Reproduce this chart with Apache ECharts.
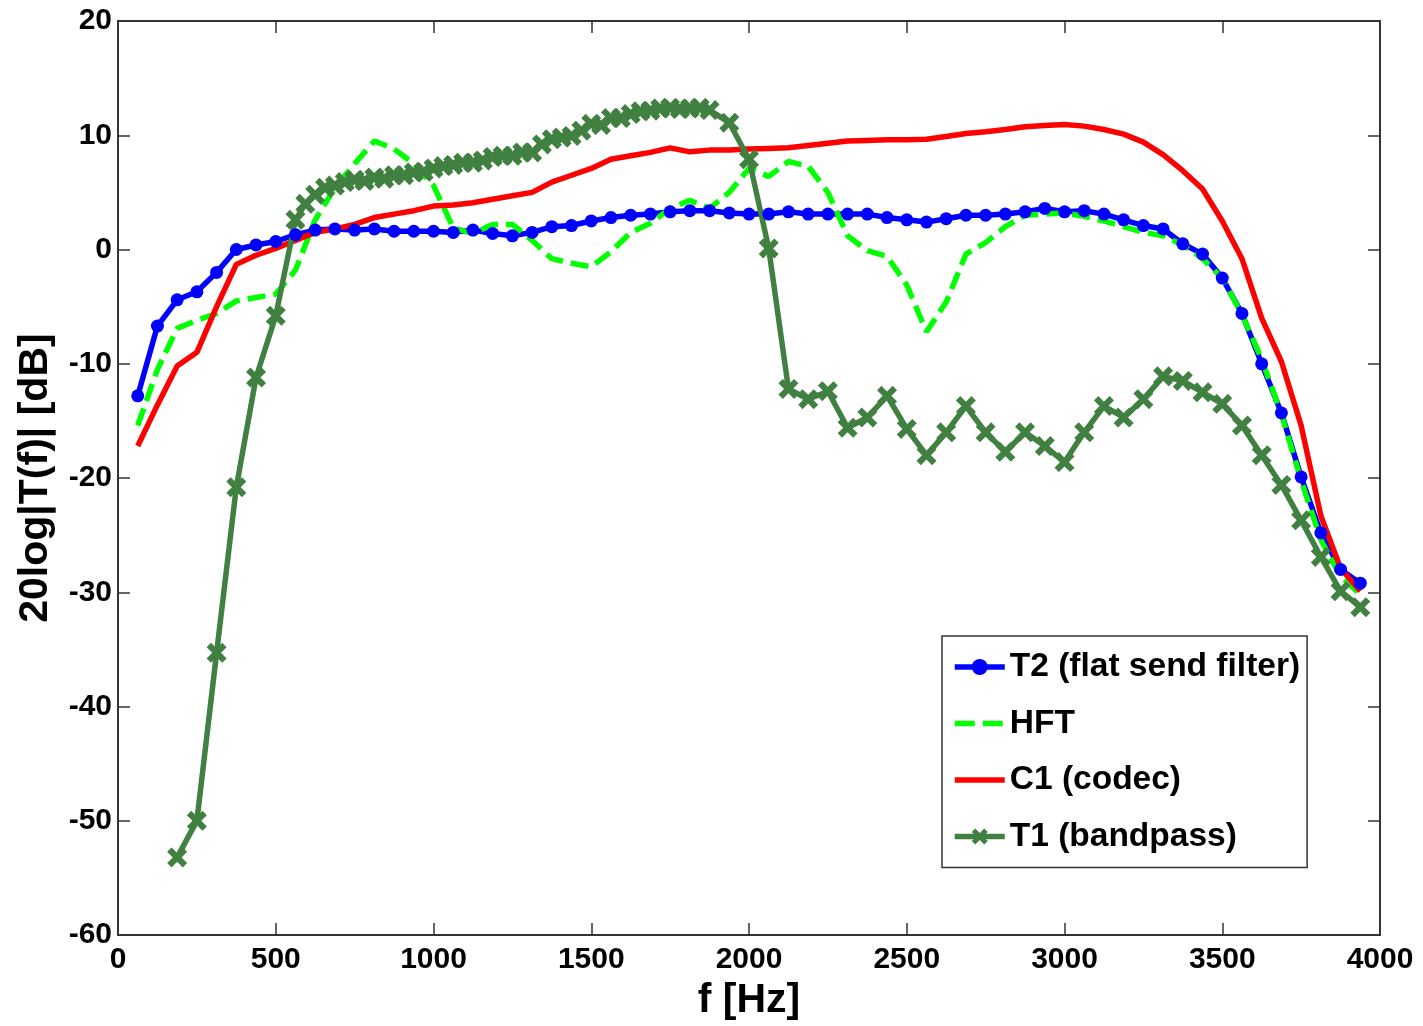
<!DOCTYPE html>
<html><head><meta charset="utf-8">
<script src="https://cdn.jsdelivr.net/npm/echarts@6/dist/echarts.min.js"></script>
<style>html,body{margin:0;padding:0;background:#fff}#c{width:1423px;height:1026px}</style>
</head><body><div id="c"></div>
<script>
// Frequency grid (Hz) shared by T2, HFT and C1
const freqs = [62.5,125,187.5,250,312.5,375,437.5,500,562.5,625,687.5,750,812.5,875,937.5,1000,
  1062.5,1125,1187.5,1250,1312.5,1375,1437.5,1500,1562.5,1625,1687.5,1750,1812.5,1875,1937.5,2000,
  2062.5,2125,2187.5,2250,2312.5,2375,2437.5,2500,2562.5,2625,2687.5,2750,2812.5,2875,2937.5,3000,
  3062.5,3125,3187.5,3250,3312.5,3375,3437.5,3500,3562.5,3625,3687.5,3750,3812.5,3875,3937.5];

const t2 = [-12.8,-6.7,-4.4,-3.7,-2.0,0.0,0.4,0.7,1.3,1.7,1.8,1.7,1.8,1.6,1.6,1.6,
  1.5,1.7,1.4,1.2,1.5,2.0,2.1,2.5,2.8,3.0,3.1,3.3,3.4,3.4,3.2,3.1,
  3.1,3.3,3.1,3.1,3.1,3.1,2.8,2.6,2.4,2.7,3.0,3.0,3.1,3.3,3.6,3.3,
  3.4,3.1,2.6,2.1,1.8,0.5,-0.4,-2.5,-5.6,-10.0,-14.3,-19.9,-24.8,-28.0,-29.2];

const hft = [-15.4,-10.5,-6.9,-6.2,-5.6,-4.5,-4.2,-3.9,-1.8,2.6,5.4,7.5,9.5,8.8,7.5,5.6,
  1.9,1.4,2.2,2.2,0.8,-0.8,-1.2,-1.5,-0.2,1.5,2.3,3.6,4.3,3.6,5.0,7.1,
  6.4,7.7,7.3,5.0,1.2,-0.1,-0.6,-3.1,-7.2,-4.6,-0.4,0.6,2.0,3.0,3.1,3.2,
  2.9,2.5,2.0,1.5,1.2,0.4,-0.8,-2.5,-5.7,-9.6,-14.4,-20.2,-25.4,-28.6,-30.2];

const c1 = [-17.2,-13.6,-10.2,-9.0,-5.0,-1.3,-0.5,0.1,0.8,1.5,1.8,2.2,2.8,3.1,3.4,3.8,
  3.9,4.1,4.4,4.7,5.0,5.9,6.5,7.1,7.9,8.2,8.5,8.9,8.55,8.7,8.7,8.8,
  8.85,8.9,9.1,9.3,9.5,9.55,9.6,9.6,9.65,9.9,10.15,10.3,10.5,10.75,10.85,10.95,
  10.8,10.5,10.1,9.4,8.3,6.9,5.3,2.5,-0.8,-6.0,-9.8,-15.4,-23.3,-27.9,-29.9];

// T1 (bandpass) has its own frequency points
const t1Freqs = [187.5,250,312.5,375,437.5,500,562.5,
  593.75,625,656.25,687.5,718.75,750,781.25,812.5,843.75,875,906.25,937.5,968.75,1000,
  1031.25,1062.5,1093.75,1125,1156.25,1187.5,1218.75,1250,1281.25,1312.5,1343.75,1375,
  1406.25,1437.5,1468.75,1500,1531.25,1562.5,1593.75,1625,1656.25,1687.5,1718.75,1750,
  1781.25,1812.5,1843.75,1875,
  1937.5,2000,2062.5,2125,2187.5,2250,2312.5,2375,2437.5,2500,2562.5,2625,2687.5,2750,
  2812.5,2875,2937.5,3000,3062.5,3125,3187.5,3250,3312.5,3375,3437.5,3500,3562.5,3625,
  3687.5,3750,3812.5,3875,3937.5];
const t1 = [-53.2,-50.0,-35.3,-20.8,-11.2,-5.8,2.6,
  4.0,4.8,5.4,5.6,5.9,6.1,6.0,6.3,6.2,6.5,6.5,6.75,6.8,7.1,
  7.3,7.4,7.6,7.6,7.8,8.1,8.2,8.2,8.5,8.5,9.2,9.65,
  9.8,9.94,10.4,11.0,10.9,11.5,11.5,11.85,12.1,12.15,12.35,12.4,
  12.3,12.35,12.4,12.2,
  11.1,7.9,0.1,-12.2,-13.1,-12.4,-15.6,-14.7,-12.8,-15.7,-18.0,-16.0,-13.7,-16.0,
  -17.7,-16.0,-17.2,-18.6,-16.0,-13.7,-14.7,-13.1,-11.1,-11.5,-12.5,-13.5,-15.4,-18.0,
  -20.6,-23.7,-26.9,-29.9,-31.3];

const seriesNames = ['T2 (flat send filter)', 'HFT', 'C1 (codec)', 'T1 (bandpass)'];
const xName = 'f [Hz]';
const yName = '20log|T(f)| [dB]';

const pair = (xs, ys) => xs.map((x, i) => [x, ys[i]]);
const FONT = '"Liberation Sans", Arial, Helvetica, sans-serif';
const AX = '#333';
const xMark = 'path://M0,2.2 L2.2,0 L5,2.8 L7.8,0 L10,2.2 L7.2,5 L10,7.8 L7.8,10 L5,7.2 L2.2,10 L0,7.8 L2.8,5 Z';
const LW = 5.5;

const baseX = {type:'value', min:0, max:4000, interval:500};
const baseY = {type:'value', min:-60, max:20, interval:10};
const tick = {show:true, inside:true, length:12, lineStyle:{color:AX, width:1.5}};
const line = {show:true, onZero:false, lineStyle:{color:AX, width:2}};

const chart = echarts.init(document.getElementById('c'), null, {renderer:'canvas'});
chart.setOption({
  animation:false,
  backgroundColor:'#fff',
  grid:{left:118, top:21, right:43, bottom:85, containLabel:false},
  xAxis:[
    Object.assign({}, baseX, {position:'bottom', axisLine:line, axisTick:tick, splitLine:{show:false},
      axisLabel:{color:'#000', fontFamily:FONT, fontWeight:'bold', fontSize:30, margin:10,
        formatter:(v) => String(v)},
      name:xName, nameLocation:'middle', nameGap:41,
      nameTextStyle:{color:'#000', fontFamily:FONT, fontWeight:'bold', fontSize:41}}),
    Object.assign({}, baseX, {position:'top', axisLine:line, axisTick:tick, splitLine:{show:false},
      axisLabel:{show:false}})
  ],
  yAxis:[
    Object.assign({}, baseY, {position:'left', axisLine:line, axisTick:tick, splitLine:{show:false},
      axisLabel:{color:'#000', fontFamily:FONT, fontWeight:'bold', fontSize:30, margin:6,
        formatter:(v) => String(v)},
      name:yName, nameLocation:'middle', nameGap:62, nameRotate:90,
      nameTextStyle:{color:'#000', fontFamily:FONT, fontWeight:'bold', fontSize:41}}),
    Object.assign({}, baseY, {position:'right', axisLine:line, axisTick:tick, splitLine:{show:false},
      axisLabel:{show:false}})
  ],
  legend:{
    orient:'vertical', left:942, top:636,
    backgroundColor:'#fff', borderColor:AX, borderWidth:1.5, borderRadius:0,
    padding:[14, 7, 14, 10], itemGap:22.5, itemWidth:50, itemHeight:20,
    textStyle:{color:'#000', fontFamily:FONT, fontWeight:'bold', fontSize:33.5},
    data:[
      {name:seriesNames[0], lineStyle:{width:LW}},
      {name:seriesNames[1], lineStyle:{width:LW, type:[20,8]}, itemStyle:{opacity:0}},
      {name:seriesNames[2], lineStyle:{width:LW}, itemStyle:{opacity:0}},
      {name:seriesNames[3], lineStyle:{width:LW}}
    ]
  },
  series:[
    {name:seriesNames[0], type:'line', data:pair(freqs, t2),
      symbol:'circle', symbolSize:13, showSymbol:true,
      lineStyle:{color:'#0000ff', width:LW}, itemStyle:{color:'#0000ff'}},
    {name:seriesNames[1], type:'line', data:pair(freqs, hft), symbol:'none',
      lineStyle:{color:'#00ff00', width:LW, type:[18,8]}, itemStyle:{color:'#00ff00'}},
    {name:seriesNames[2], type:'line', data:pair(freqs, c1), symbol:'none',
      lineStyle:{color:'#ff0000', width:LW}, itemStyle:{color:'#ff0000'}},
    {name:seriesNames[3], type:'line', data:pair(t1Freqs, t1),
      symbol:xMark, symbolSize:20, showSymbol:true,
      lineStyle:{color:'#408040', width:LW}, itemStyle:{color:'#408040'}}
  ]
});
</script></body></html>
